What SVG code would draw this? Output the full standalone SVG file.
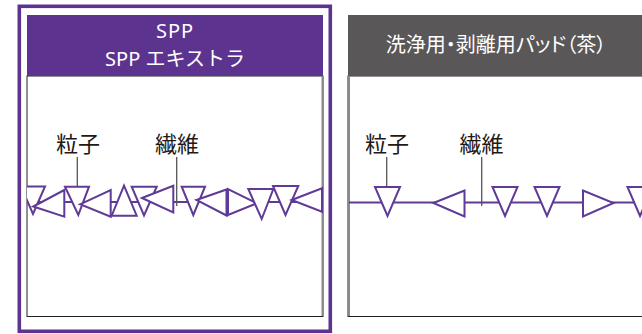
<svg xmlns="http://www.w3.org/2000/svg" width="642" height="334" viewBox="0 0 642 334">
<style>
.hdr{font-family:"Noto Sans","Noto Sans CJK JP",sans-serif;font-size:20px;fill:#ffffff;text-anchor:middle}
.hdrj{font-family:"Noto Sans CJK JP",sans-serif;font-size:20px;fill:#ffffff;text-anchor:middle;font-feature-settings:"palt"}
.lbl{font-family:"Noto Sans CJK JP",sans-serif;font-size:22px;fill:#231815;text-anchor:middle}
.lead{stroke:#555555;stroke-width:1.3;fill:none}
.fib{stroke:#5f3a96;stroke-width:2;fill:none}
.tri{stroke:#5f3a96;stroke-width:2;fill:#ffffff;stroke-linejoin:miter}
</style>
<defs>
<clipPath id="clipL"><rect x="27" y="77" width="296" height="239"/></clipPath>
<clipPath id="clipR"><rect x="349" y="77" width="293" height="239"/></clipPath>
</defs>

<g id="panel-spp">
<rect x="19.3" y="6.3" width="311" height="325" fill="none" stroke="#5c3490" stroke-width="3.6"/>
<rect x="27" y="76" width="296" height="240.5" fill="#ffffff" stroke="#222222" stroke-width="1"/>
<line x1="322.5" y1="76" x2="322.5" y2="316" stroke="#8a8a8a" stroke-width="2"/>
<rect x="27" y="15" width="296" height="61" fill="#5c3490"/>
<text class="hdr" x="175" y="38" letter-spacing="1">SPP</text>
<text class="hdr" x="175" y="66">SPP エキストラ</text>
</g>

<g id="panel-pad">
<rect x="348" y="76" width="300" height="240.5" fill="#ffffff" stroke="#222222" stroke-width="1"/>
<line x1="349" y1="76" x2="349" y2="316" stroke="#8a8a8a" stroke-width="2"/>
<rect x="348" y="15" width="300" height="61" fill="#595757"/>
<text class="hdrj" x="496" y="52">洗浄用・剥離用パッド（茶）</text>
</g>

<g id="labels">
<text class="lbl" x="78" y="152">粒子</text>
<text class="lbl" x="177" y="152">繊維</text>
<text class="lbl" x="387" y="152">粒子</text>
<text class="lbl" x="481.5" y="152">繊維</text>
</g>

<g id="fiber-spp" clip-path="url(#clipL)">
<line class="fib" x1="27" y1="202" x2="323" y2="202"/>
<polygon class="tri" points="21,186.5 45,186.5 33,214"/>
<polygon class="tri" points="33.3,206.5 64.3,190 64.3,216.7"/>
<polygon class="tri" points="65,186.7 89,186.7 78.3,215"/>
<polygon class="tri" points="80,204.3 110.7,190 110.7,216.7"/>
<polygon class="tri" points="111.7,215.7 136.7,215.7 124,185.5"/>
<polygon class="tri" points="131.7,186.7 156.7,186.7 144,215.5"/>
<polygon class="tri" points="142,198 173.3,185.7 173.3,212.5"/>
<polygon class="tri" points="181.7,186.7 205,186.7 193.3,215"/>
<polygon class="tri" points="196.5,200 226.5,189.5 226.5,215.5"/>
<polygon class="tri" points="228,189 228,215 256.7,203.3"/>
<polygon class="tri" points="248.3,189 273.3,189 261.7,219"/>
<polygon class="tri" points="273,186 298.3,186 285.5,215"/>
<polygon class="tri" points="291.7,200 322,188.3 322,211.7"/>
</g>

<g id="fiber-pad" clip-path="url(#clipR)">
<line class="fib" x1="349" y1="202.5" x2="642" y2="202.5"/>
<polygon class="tri" points="375,187 400,187 387.5,216"/>
<polygon class="tri" points="433.5,203 464.5,190.5 464.5,216.5"/>
<polygon class="tri" points="492.5,187 517.5,187 505,216"/>
<polygon class="tri" points="534.5,187 559.5,187 547,216"/>
<polygon class="tri" points="583,190.5 583,216.5 613.5,203"/>
<polygon class="tri" points="627.5,187 652.5,187 640,216"/>
</g>

<g id="connectors">
<line class="lead" x1="77.3" y1="157" x2="77.3" y2="186"/>
<line class="lead" x1="176.7" y1="157" x2="176.7" y2="206"/>
<line class="lead" x1="386.7" y1="157" x2="386.7" y2="186"/>
<line class="lead" x1="481.7" y1="157" x2="481.7" y2="206"/>
</g>
</svg>
